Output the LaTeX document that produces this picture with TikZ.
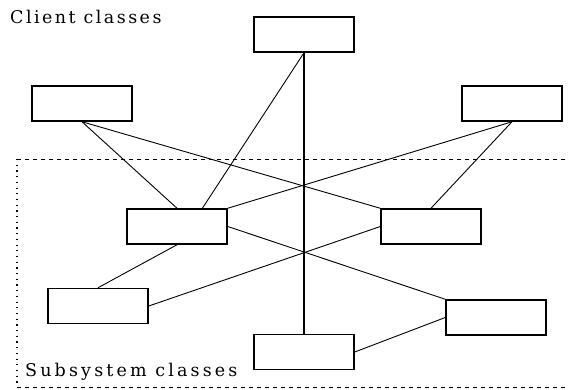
\documentclass[tikz,border=0pt]{standalone}
\usepackage{fontspec}
\usetikzlibrary{calc}
\setmainfont{DejaVu Serif}
\newfontfamily\clientfont[LetterSpace=14]{DejaVu Serif}
\newfontfamily\subsysfont[LetterSpace=18]{DejaVu Serif}
\begin{document}
\begin{tikzpicture}[x=1pt,y=-1pt,
  classbox/.style={draw, line width=1.5pt, minimum width=100pt, minimum height=35pt, inner sep=0pt},
  link/.style={line width=0.9pt},
  spine/.style={line width=1.5pt},
  framedash/.style={line width=1pt, dash pattern=on 4pt off 4pt},
  framedot/.style={line width=1.2pt, dash pattern=on 1.2pt off 4.5pt},
  grouplabel/.style={anchor=base west, inner sep=0pt}]
\useasboundingbox (0,0) rectangle (574,389);

% subsystem boundary (open on the right)
\coordinate (ftl) at (17,159);
\coordinate (ftr) at (567,159);
\coordinate (fbl) at (17,387);
\coordinate (fbr) at (567,387);
\draw[framedash] (ftl) -- (ftr);
\draw[framedash] (fbl) -- (fbr);
\draw[framedot] (ftl) -- (fbl);

% group labels
\node[grouplabel, font=\clientfont\fontsize{17.5}{21}\selectfont] (client) at (10,23) {Client classes};
\node[grouplabel, font=\subsysfont\fontsize{17.5}{21}\selectfont] (subsys) at (25,376) {Subsystem classes};

% client classes
\node[classbox] (T) at (304,34.5) {};
\node[classbox] (L) at (82,103.5) {};
\node[classbox] (R) at (512,103.5) {};

% subsystem classes
\node[classbox] (M1) at (177,226.5) {};
\node[classbox] (M2) at (431,226.5) {};
\node[classbox] (S1) at (98,306) {};
\node[classbox] (S2) at (496,317.5) {};
\node[classbox] (S3) at (304,352) {};

% connectors
\draw[spine] (T.south) -- (S3.north);
\draw[link] (T.south) -- ($(M1.north)!0.5!(M1.north east)$);
\draw[link] (L.south) -- (M1.north);
\draw[link] (L.south) -- (M2.north west);
\draw[link] (R.south) -- (M1.north east);
\draw[link] (R.south) -- (M2.north);
\draw[link] (M1.east) -- (S2.north west);
\draw[link] (M1.south) -- (S1.north);
\draw[link] (S1.east) -- (M2.west);
\draw[link] (S3.east) -- (S2.west);
\end{tikzpicture}
\end{document}
